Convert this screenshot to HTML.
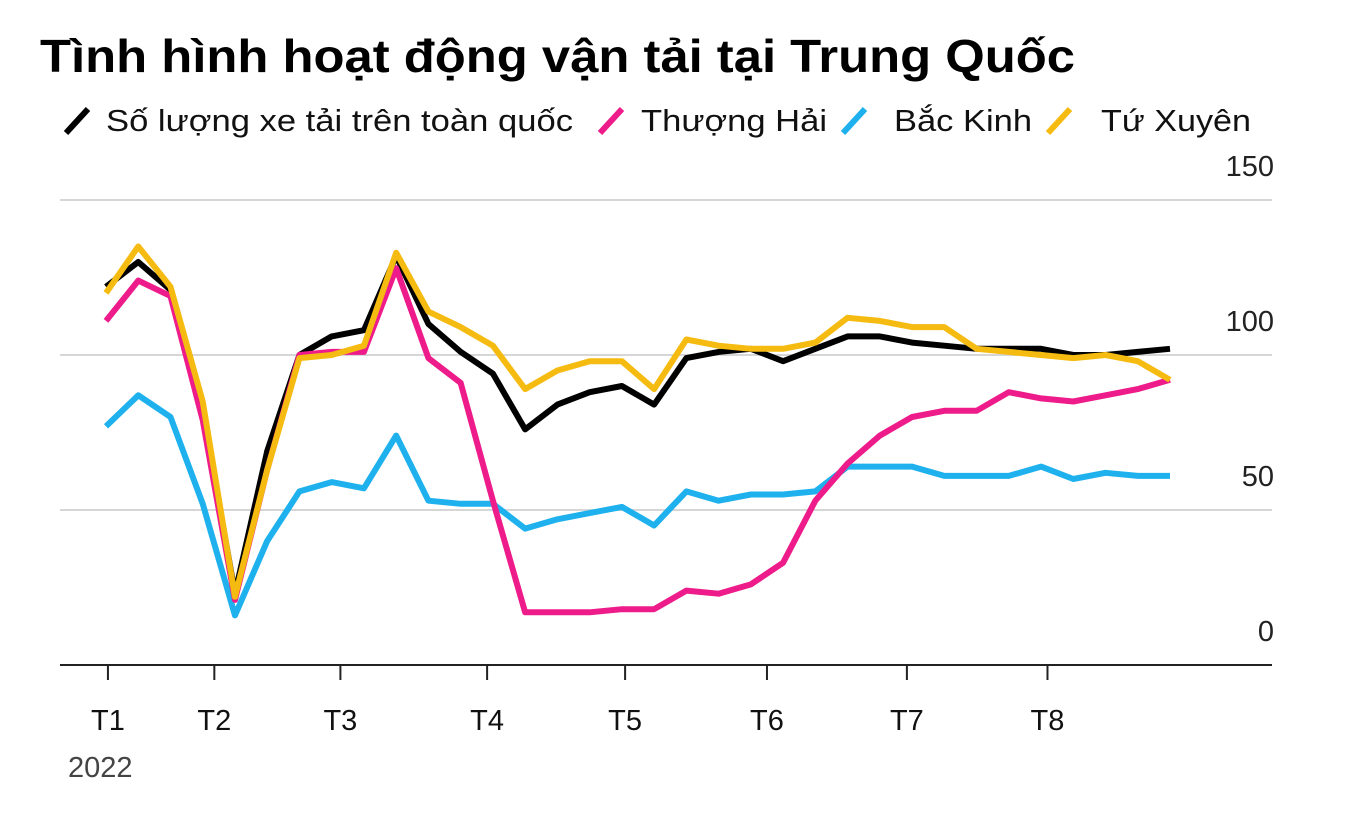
<!DOCTYPE html>
<html><head><meta charset="utf-8"><style>
body{margin:0;background:#fff;width:1352px;height:808px;overflow:hidden;font-family:"Liberation Sans",sans-serif}
</style></head><body>
<svg id="chart" width="1352" height="808" xmlns="http://www.w3.org/2000/svg" font-family="Liberation Sans, sans-serif">
<text x="40" y="72" font-size="46" font-weight="bold" fill="#000" textLength="1035" lengthAdjust="spacingAndGlyphs">Tình hình hoạt động vận tải tại Trung Quốc</text>
<g id="legend" font-size="31" fill="#111">
<g><line x1="66" y1="133" x2="88" y2="109" stroke="#000" stroke-width="6"/><text x="106" y="131" textLength="467" lengthAdjust="spacingAndGlyphs">Số lượng xe tải trên toàn quốc</text></g>
<g><line x1="600" y1="133" x2="622" y2="109" stroke="#ee1b8a" stroke-width="6"/><text x="641" y="131" textLength="186" lengthAdjust="spacingAndGlyphs">Thượng Hải</text></g>
<g><line x1="843" y1="133" x2="865" y2="109" stroke="#1eb1ee" stroke-width="6"/><text x="894" y="131" textLength="138" lengthAdjust="spacingAndGlyphs">Bắc Kinh</text></g>
<g><line x1="1048" y1="133" x2="1070" y2="109" stroke="#f5bb10" stroke-width="6"/><text x="1101" y="131" textLength="150" lengthAdjust="spacingAndGlyphs">Tứ Xuyên</text></g>
</g>
<g id="grid"></g><g id="series"></g><g id="xaxis"></g>
<text x="68" y="777" font-size="29" fill="#444">2022</text>
</svg>
<script>
const yTicks=[0,50,100,150];
const monthLabels=["T1","T2","T3","T4","T5","T6","T7","T8"];
const monthPos=[0.06,3.36,7.27,11.82,16.1,20.5,24.84,29.2];
const national=[122,130,121,82,23,69,100,106,108,132,110,101,94,76,84,88,90,84,99,101,102,98,102,106,106,104,103,102,102,102,100,100,101,102];
const shanghai=[111,124,119,79,21,63,100,101,101,128,99,91,53,17,17,17,18,18,24,23,26,33,53,65,74,80,82,82,88,86,85,87,89,92];
const beijing=[77,87,80,52,16,40,56,59,57,74,53,52,52,44,47,49,51,45,56,53,55,55,56,64,64,64,61,61,61,64,60,62,61,61];
const sichuan=[120,135,122,85,22,63,99,100,103,133,114,109,103,89,95,98,98,89,105,103,102,102,104,112,111,109,109,102,101,100,99,100,98,92];
const NS="http://www.w3.org/2000/svg";
const x=i=>106+i*(1170-106)/33;
const y=v=>665-v*3.1;
const grid=document.getElementById('grid');
yTicks.forEach(t=>{
 if(t>0){const l=document.createElementNS(NS,'line');
 
 
 l.setAttribute('x1',60);l.setAttribute('x2',1272);l.setAttribute('y1',y(t));l.setAttribute('y2',y(t));
 l.setAttribute('stroke','#d6d6d6');l.setAttribute('stroke-width',2);grid.appendChild(l);}
 const tx=document.createElementNS(NS,'text');
 
 
 tx.setAttribute('x',1274);tx.setAttribute('y',y(t)-24);tx.setAttribute('text-anchor','end');
 tx.setAttribute('font-size',29);tx.setAttribute('fill','#222');tx.textContent=t;grid.appendChild(tx);
});
const ser=document.getElementById('series');
[[national,'#000','national'],[beijing,'#1eb1ee','beijing'],[shanghai,'#ee1b8a','shanghai'],[sichuan,'#f5bb10','sichuan']].forEach(([d,c,n])=>{
 const p=document.createElementNS(NS,'polyline');
 
 
 p.setAttribute('points',d.map((v,i)=>x(i)+','+y(v)).join(' '));
 p.setAttribute('fill','none');p.setAttribute('stroke',c);p.setAttribute('stroke-width',6);p.setAttribute('stroke-linejoin','round');
 ser.appendChild(p);
});
const xa=document.getElementById('xaxis');
const b=document.createElementNS(NS,'line');


b.setAttribute('x1',60);b.setAttribute('x2',1272);b.setAttribute('y1',665);b.setAttribute('y2',665);
b.setAttribute('stroke','#222');b.setAttribute('stroke-width',2);xa.appendChild(b);
monthLabels.forEach((m,k)=>{
 const px=x(monthPos[k]);
 const t=document.createElementNS(NS,'line');
 
 
 t.setAttribute('x1',px);t.setAttribute('x2',px);t.setAttribute('y1',665);t.setAttribute('y2',680);
 t.setAttribute('stroke','#222');t.setAttribute('stroke-width',2);xa.appendChild(t);
 const l=document.createElementNS(NS,'text');
 
 
 l.setAttribute('x',px);l.setAttribute('y',730);l.setAttribute('text-anchor','middle');
 l.setAttribute('font-size',29);l.setAttribute('fill','#111');l.textContent=m;xa.appendChild(l);
});
</script>
</body></html>
